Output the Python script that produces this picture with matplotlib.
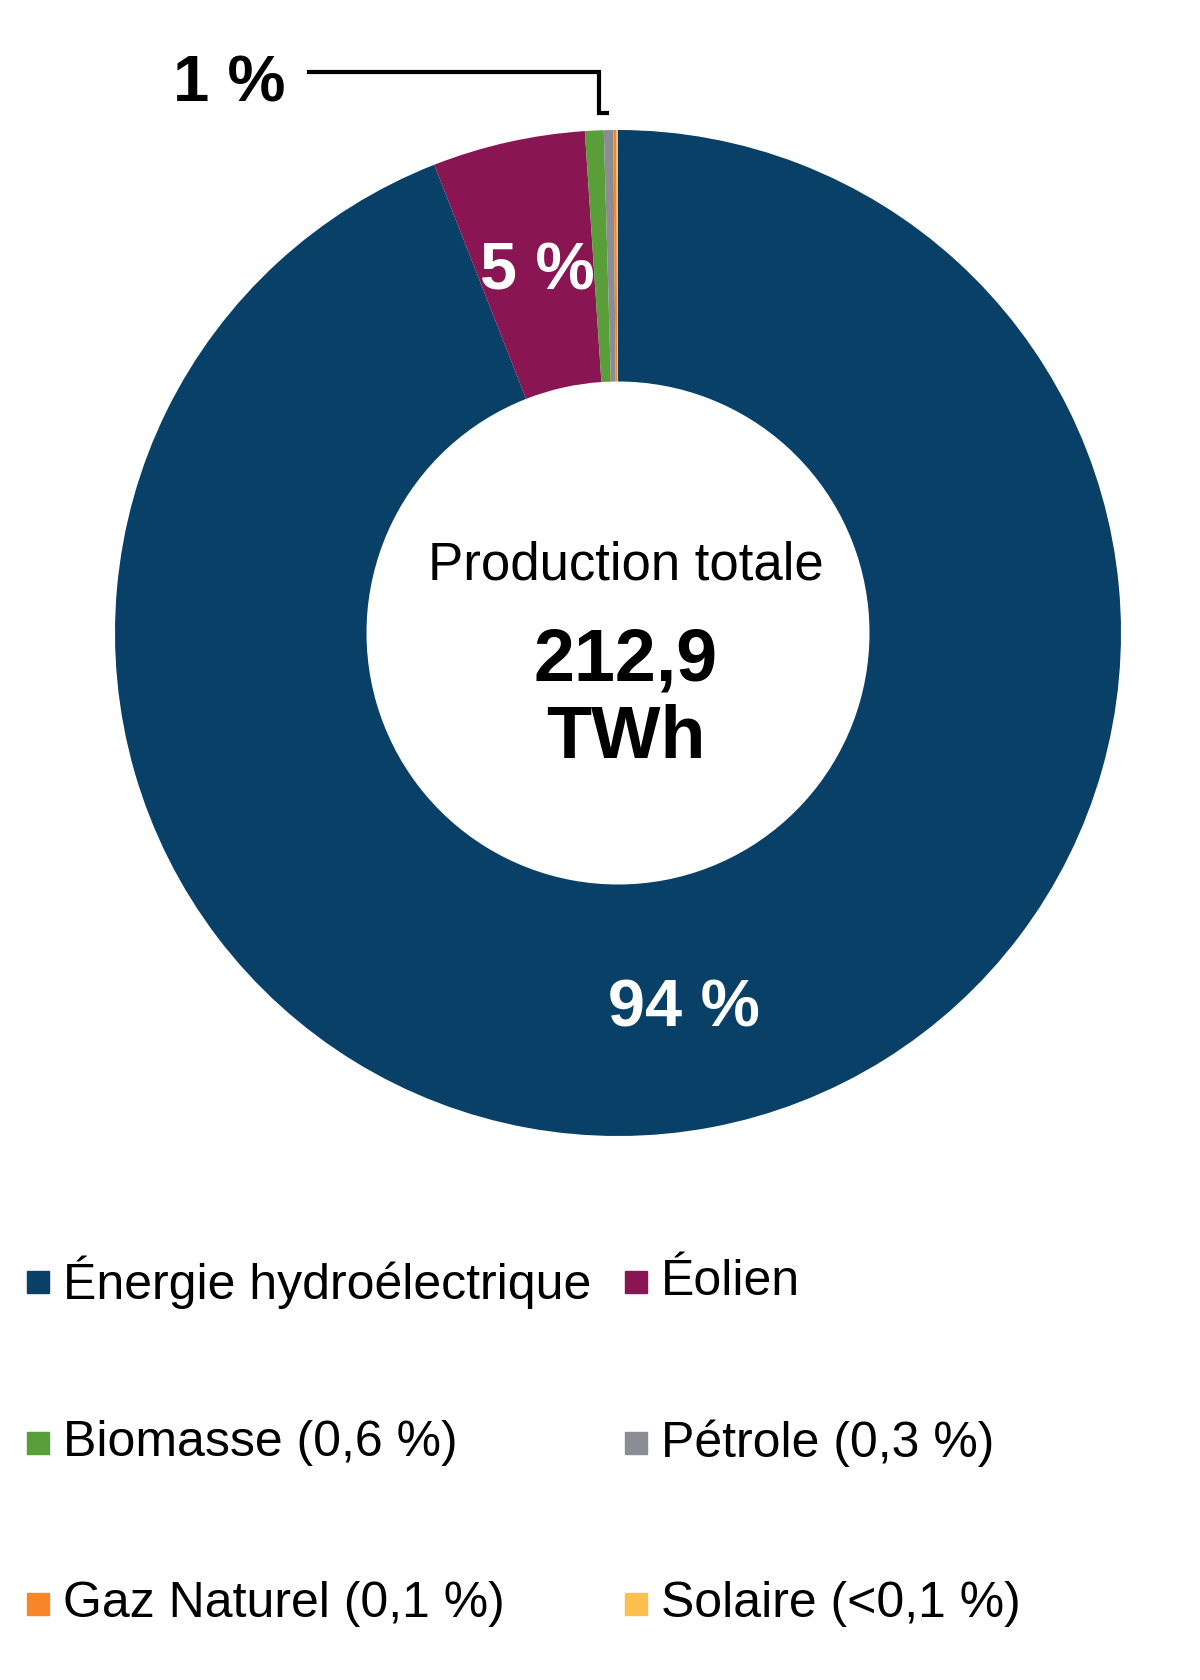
import matplotlib
matplotlib.use("Agg")
import matplotlib.pyplot as plt
from matplotlib.patches import Rectangle
import numpy as np

plt.rcParams["font.family"] = ["Liberation Sans", "DejaVu Sans"]

# data
sources = ["Énergie hydroélectrique", "Éolien", "Biomasse (0,6 %)", "Pétrole (0,3 %)",
           "Gaz Naturel (0,1 %)", "Solaire (<0,1 %)"]
shares = [94.0, 4.9, 0.6, 0.3, 0.1, 0.05]
colors = ["#084068", "#891552", "#5a9e3a", "#8c8c94", "#f7862a", "#fdbf4f"]
slice_labels = ["94 %", "5 %", "", "", "", ""]
small_label = "1 %"
center_title = "Production totale"
center_value = "212,9\nTWh"

W, H = 1200, 1680
fig = plt.figure(figsize=(W / 100, H / 100), dpi=100)

cx, cy, R = 618, 633, 503
ax = fig.add_axes([(cx - R) / W, (H - cy - R) / H, 2 * R / W, 2 * R / H])

wedges, _ = ax.pie(shares, colors=colors, startangle=90, counterclock=False,
                   radius=1, wedgeprops=dict(width=0.5, linewidth=0))
ax.set_xlim(-1, 1)
ax.set_ylim(-1, 1)
ax.set_aspect("equal")
ax.axis("off")

# label placement tweaks (radius, angle shift in degrees)
label_pos = [(0.76, -0.8), (0.735, 0.0)]
for w, lab, (r, shift) in zip(wedges, slice_labels, label_pos):
    mid = np.deg2rad((w.theta1 + w.theta2) / 2 + shift)
    ax.text(r * np.cos(mid), r * np.sin(mid), lab, color="white",
            fontsize=48, fontweight="bold", ha="center", va="center")

# leader line for the small slices
ax.plot([-0.615, -0.038, -0.038, -0.022], [1.115, 1.115, 1.034, 1.034],
        color="black", lw=3, clip_on=False, solid_joinstyle="miter")
ax.text(-0.772, 1.09, small_label, fontsize=47, fontweight="bold",
        ha="center", va="center", clip_on=False)

# centre text
fig.text(626 / W, 1 - 566 / H, center_title, fontsize=38, ha="center", va="center")
fig.text(626 / W, 1 - 700 / H, center_value, fontsize=53, fontweight="bold",
         ha="center", va="center", linespacing=1.16)

# legend
row_y = [1282, 1443, 1604]
col_x = [27, 625]
sq = 22
for i, (lab, col) in enumerate(zip(sources, colors)):
    x0 = col_x[i % 2]
    y0 = row_y[i // 2]
    fig.patches.append(Rectangle((x0 / W, 1 - (y0 + sq / 2) / H), sq / W, sq / H,
                                 color=col, transform=fig.transFigure))
    fig.text((x0 + 36) / W, 1 - y0 / H, lab, fontsize=36, ha="left", va="center")

fig.savefig("out.png", dpi=100, facecolor="white")
